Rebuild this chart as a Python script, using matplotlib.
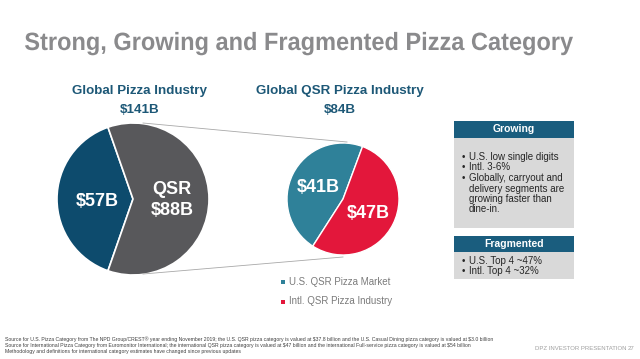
import matplotlib
matplotlib.use("Agg")
from matplotlib import pyplot as plt
from matplotlib.patches import Rectangle, PathPatch
from matplotlib.textpath import TextPath
from matplotlib.font_manager import FontProperties
from matplotlib.transforms import Affine2D

# data
global_labels = ["Other", "QSR"]
global_values = [57, 88]
global_total = "$141B"
qsr_labels = ["U.S. QSR Pizza Market", "Intl. QSR Pizza Industry"]
qsr_values = [41, 47]
qsr_total = "$84B"
growing_points = ["U.S. low single digits", "Intl. 3-6%",
                  "Globally, carryout and\ndelivery segments are\ngrowing faster than\ndine-in."]
fragmented_points = ["U.S. Top 4 ~47%", "Intl. Top 4 ~32%"]
footnotes = [
    "Source for U.S. Pizza Category from The NPD Group/CREST\u00ae year ending November 2019; the U.S. QSR pizza category is valued at $37.8 billion and the U.S. Casual Dining pizza category is valued at $3.0 billion",
    "Source for International Pizza Category from Euromonitor International; the international QSR pizza category is valued at $47 billion and the international Full-service pizza category is valued at $54 billion",
    "Methodology and definitions for international category estimates have changed since previous updates",
]

W, H = 640, 359
BLUE = "#0d4b6d"
GRAY = "#58585b"
TEAL = "#2f8199"
RED = "#e3173b"
HEAD = "#1a5d7e"
TITLE_BLUE = "#1d5877"
FONT = ["Liberation Sans", "DejaVu Sans"]

def Y(y):
	# convert image row to axis coordinate
	return H - y

def txt(x, y, s, **kw):
	kw.setdefault("family", FONT)
	return ax.text(x, Y(y), s, parse_math=False, **kw)

fig = plt.figure(figsize=(6.4, 3.59), dpi=100)
fig.patch.set_facecolor("white")
ax = fig.add_axes([0, 0, 1, 1])

# title, squeezed horizontally to look like the narrow font on the slide
title = "Strong, Growing and Fragmented Pizza Category"
tp = TextPath((0, 0), title, size=25, prop=FontProperties(family="Liberation Sans", weight="bold"))
ext = tp.get_extents()
sx = 548 / ext.width
tp = tp.transformed(Affine2D().translate(-ext.x0, 0).scale(sx, 1).translate(25, Y(50)))
ax.add_patch(PathPatch(tp, facecolor="#8a8a8c", edgecolor="none"))

# headings over the pies
for x, a, b in [(140, "Global Pizza Industry", global_total), (340, "Global QSR Pizza Industry", qsr_total)]:
	txt(x, 91, a, fontsize=9.6, fontweight="bold", color=TITLE_BLUE, ha="center", va="center")
	txt(x, 110, b, fontsize=9.6, fontweight="bold", color=TITLE_BLUE, ha="center", va="center")

# connector lines between the pies
ax.plot([143, 347], [Y(123), Y(142)], color="#a8a8a8", lw=0.6)
ax.plot([143, 343], [Y(274), Y(257)], color="#a8a8a8", lw=0.6)

# big pie
start = 180 - global_values[0] / sum(global_values) * 360 / 2
ax.pie(global_values, colors=[BLUE, GRAY], center=(133, Y(199)), radius=76,
	startangle=start, wedgeprops=dict(edgecolor="white", linewidth=1.2), frame=True)
txt(97, 201, "$%dB" % global_values[0], fontsize=13, fontweight="bold",
	color="white", ha="center", va="center")
txt(172, 200, "QSR\n$%dB" % global_values[1], fontsize=13, fontweight="bold",
	color="white", ha="center", va="center", linespacing=1.3)

# small pie
ax.pie(qsr_values, colors=[TEAL, RED], center=(343, Y(199)), radius=56,
	startangle=69.6, wedgeprops=dict(edgecolor="white", linewidth=1.0), frame=True)
txt(318, 188, "$%dB" % qsr_values[0], fontsize=13, fontweight="bold",
	color="white", ha="center", va="center")
txt(368, 213, "$%dB" % qsr_values[1], fontsize=13, fontweight="bold",
	color="white", ha="center", va="center")

# legend
for i, (lab, col) in enumerate(zip(qsr_labels, [TEAL, RED])):
	yy = 282 + i * 19.5
	ax.add_patch(Rectangle((281, Y(yy) - 2), 4, 4, color=col, lw=0))
	txt(289, yy, lab, fontsize=7, color="#7b7b7b", va="center", ha="left")

# side boxes
def box(top, head_h, body_h, title):
	ax.add_patch(Rectangle((454, Y(top + head_h)), 120, head_h, color=HEAD, lw=0))
	ax.add_patch(Rectangle((454, Y(top + head_h + body_h)), 120, body_h, color="#d9d9d9", lw=0))
	txt(514, top + head_h / 2, title, fontsize=7.5, fontweight="bold",
		color="white", ha="center", va="center")

def bullets(points, yy):
	for p in points:
		txt(462, yy, "\u2022", fontsize=7, color="#262626", va="center")
		for line in p.split("\n"):
			txt(469, yy, line, fontsize=7, color="#262626", va="center")
			yy += 10.5

box(121, 17, 90, "Growing")
bullets(growing_points, 157)
box(236, 16, 27, "Fragmented")
bullets(fragmented_points, 261)

# footnotes
for i, f in enumerate(footnotes):
	txt(5, 339 + i * 6.5, f, fontsize=3.68, color="#404040", va="center", ha="left")
txt(535, 349, "DPZ INVESTOR PRESENTATION", fontsize=4.3, color="#a0a0a0", va="center", ha="left")
txt(628, 349, "27", fontsize=4.3, color="#a0a0a0", va="center", ha="left")

ax.set_xlim(0, W)
ax.set_ylim(0, H)
ax.set_aspect("auto")
ax.axis("off")

fig.savefig("out.png", dpi=100, facecolor="white")
